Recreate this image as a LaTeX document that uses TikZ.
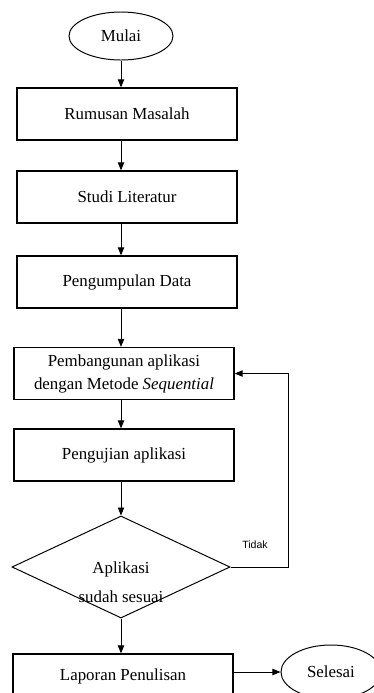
\documentclass[tikz,border=0pt]{standalone}
\usepackage{fontspec}
\setmainfont{Liberation Serif}
\newfontfamily\tidakfont{Liberation Sans}
\usetikzlibrary{shapes.geometric,arrows.meta}

\begin{document}
\begin{tikzpicture}[x=0.025cm,y=-0.025cm,
  terminal/.style={draw,ellipse,line width=0.7pt,minimum width=2.6cm,minimum height=1.2cm,inner sep=0pt,font=\fontsize{12}{14}\selectfont},
  proses/.style={draw,rectangle,line width=0.9pt,minimum width=5.5cm,minimum height=1.3cm,inner sep=0pt,align=center,font=\fontsize{12}{16.3}\selectfont},
  keputusan/.style={draw,diamond,line width=0.7pt,minimum width=5.45cm,minimum height=2.55cm,inner sep=0pt},
  panah/.style={-{Triangle[length=0.2cm,width=0.16cm]},line width=0.6pt}]
\useasboundingbox (0,0) rectangle (374,693);
\clip (0,0) rectangle (374,693);
\node[terminal] (mulai) at (121,36) {Mulai};
\node[proses] (rumusan) at (127,114) {Rumusan Masalah};
\node[proses] (studi) at (127,197) {Studi Literatur};
\node[proses] (kumpul) at (127,282) {Pengumpulan Data};
\node[proses] (bangun) at (124,373.5) {Pembangunan aplikasi\\dengan Metode \textit{Sequential}};
\node[proses] (uji) at (124,455) {Pengujian aplikasi};
\node[keputusan,label={[align=center,font=\fontsize{12}{21}\selectfont,yshift=-0.375cm]center:Aplikasi\\sudah sesuai}] (cek) at (121,567) {};
\node[proses,minimum height=1.1cm] (lapor) at (123,676) {Laporan Penulisan};
\node[terminal,minimum width=2.5cm,minimum height=1.35cm] (selesai) at (331,672) {Selesai};
\node[font=\tidakfont\fontsize{7.5}{9}\selectfont] (tidak) at (255,545) {Tidak};
\coordinate (balik) at (288,567);
\draw[panah] (mulai.south) -- (mulai.south |- rumusan.north);
\draw[panah] (rumusan.south -| cek) -- (studi.north -| cek);
\draw[panah] (studi.south -| cek) -- (kumpul.north -| cek);
\draw[panah] (kumpul.south -| cek) -- (bangun.north -| cek);
\draw[panah] (bangun.south -| cek) -- (uji.north -| cek);
\draw[panah] (uji.south -| cek) -- (cek.north);
\draw[panah] (cek.south) -- (cek.south |- lapor.north);
\draw[panah] (cek.east) -- (balik) |- (bangun.east);
\draw[panah] (lapor.east |- selesai) -- (selesai.west);
\end{tikzpicture}
\end{document}
